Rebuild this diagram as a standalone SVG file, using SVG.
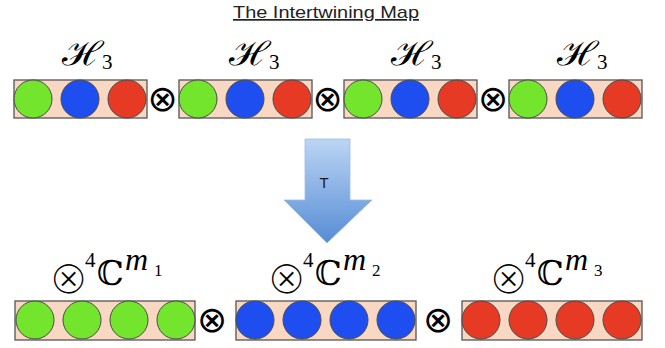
<svg xmlns="http://www.w3.org/2000/svg" width="665" height="348" viewBox="0 0 665 348">
<defs>
<linearGradient id="ag" x1="0" y1="0" x2="0" y2="1">
<stop offset="0" stop-color="#bcd5f4"/>
<stop offset="1" stop-color="#568cd5"/>
</linearGradient>
<style>
.box{fill:#f8d8c2;stroke:#555;stroke-width:1.3}
.g{fill:#72e52c;stroke:#4a4a4a;stroke-width:1}
.b{fill:#1f4ef0;stroke:#4a4a4a;stroke-width:1}
.r{fill:#e63a24;stroke:#4a4a4a;stroke-width:1}
.ot{font-family:"DejaVu Sans",sans-serif;font-size:36px;fill:#000;text-anchor:middle}
.lab{fill:#000;font-family:"Liberation Serif",serif}
.lo{font-family:"DejaVu Sans",sans-serif;font-size:48px;text-anchor:middle;stroke:#fff;stroke-width:1.9}
.hl{font-family:"DejaVu Serif","Noto Sans",serif;font-size:33px;font-style:italic;fill:#000}
.h3{font-size:21px}
.four{font-size:21px}
.cc{font-family:"DejaVu Serif",serif;font-size:34px}
.m{font-style:italic;font-size:32px}
.idx{font-size:17px}
</style>
</defs>
<text x="326" y="18" font-family="Liberation Sans, sans-serif" font-size="17" textLength="186" lengthAdjust="spacingAndGlyphs" text-anchor="middle" fill="#222" text-decoration="underline">The Intertwining Map</text>

<g id="top1">
<text class="hl" transform="translate(62,65) scale(1.18,1)">ℋ</text><text class="lab h3" x="102" y="69">3</text>
<rect class="box" x="14" y="80" width="133" height="38"/>
<circle class="g" cx="33" cy="99" r="19"/><circle class="b" cx="80" cy="99" r="19"/><circle class="r" cx="127" cy="99" r="19"/>
</g>
<g id="top2">
<text class="hl" transform="translate(229,65) scale(1.18,1)">ℋ</text><text class="lab h3" x="269" y="69">3</text>
<rect class="box" x="179" y="80" width="133" height="38"/>
<circle class="g" cx="198" cy="99" r="19"/><circle class="b" cx="245" cy="99" r="19"/><circle class="r" cx="292" cy="99" r="19"/>
</g>
<g id="top3">
<text class="hl" transform="translate(391,65) scale(1.18,1)">ℋ</text><text class="lab h3" x="431" y="69">3</text>
<rect class="box" x="344" y="80" width="133" height="38"/>
<circle class="g" cx="363" cy="99" r="19"/><circle class="b" cx="410" cy="99" r="19"/><circle class="r" cx="457" cy="99" r="19"/>
</g>
<g id="top4">
<text class="hl" transform="translate(557,65) scale(1.18,1)">ℋ</text><text class="lab h3" x="597" y="69">3</text>
<rect class="box" x="509" y="80" width="133" height="38"/>
<circle class="g" cx="528" cy="99" r="19"/><circle class="b" cx="575" cy="99" r="19"/><circle class="r" cx="622" cy="99" r="19"/>
</g>
<g id="otimes-top">
<text class="ot" x="162.5" y="110.5">⊗</text>
<text class="ot" x="327.5" y="110.5">⊗</text>
<text class="ot" x="493" y="110.5">⊗</text>
</g>

<g id="arrow">
<path d="M305,139 H350 V200 H372 L327,243 L284,200 H305 Z" fill="url(#ag)" stroke="#9dbde6" stroke-width="0.8"/>
<text x="324" y="188" font-family="Liberation Sans, sans-serif" font-size="15" text-anchor="middle" fill="#1a1a1a">T</text>
</g>

<g id="bot1">
<text class="lab"><tspan class="lo" x="68.5" y="293.5">⊗</tspan><tspan class="four" x="85" y="267">4</tspan><tspan class="cc" x="97" y="285">ℂ</tspan><tspan class="m" x="125" y="270">m</tspan><tspan class="idx" x="154" y="276">1</tspan></text>
<rect class="box" x="15" y="301" width="180" height="39"/>
<circle class="g" cx="35" cy="320" r="19"/><circle class="g" cx="82" cy="320" r="19"/><circle class="g" cx="129" cy="320" r="19"/><circle class="g" cx="176" cy="320" r="19"/>
</g>
<g id="bot2">
<text class="lab"><tspan class="lo" x="286.5" y="293.5">⊗</tspan><tspan class="four" x="303" y="267">4</tspan><tspan class="cc" x="315" y="285">ℂ</tspan><tspan class="m" x="343" y="270">m</tspan><tspan class="idx" x="372" y="276">2</tspan></text>
<rect class="box" x="236" y="301" width="180" height="39"/>
<circle class="b" cx="255" cy="320" r="19"/><circle class="b" cx="302" cy="320" r="19"/><circle class="b" cx="349" cy="320" r="19"/><circle class="b" cx="396" cy="320" r="19"/>
</g>
<g id="bot3">
<text class="lab"><tspan class="lo" x="508.5" y="293.5">⊗</tspan><tspan class="four" x="525" y="267">4</tspan><tspan class="cc" x="537" y="285">ℂ</tspan><tspan class="m" x="565" y="270">m</tspan><tspan class="idx" x="594" y="276">3</tspan></text>
<rect class="box" x="462" y="301" width="180" height="39"/>
<circle class="r" cx="481" cy="320" r="19"/><circle class="r" cx="528" cy="320" r="19"/><circle class="r" cx="575" cy="320" r="19"/><circle class="r" cx="622" cy="320" r="19"/>
</g>
<g id="otimes-bottom">
<text class="ot" x="212" y="331.5">⊗</text>
<text class="ot" x="438" y="331.5">⊗</text>
</g>
</svg>
